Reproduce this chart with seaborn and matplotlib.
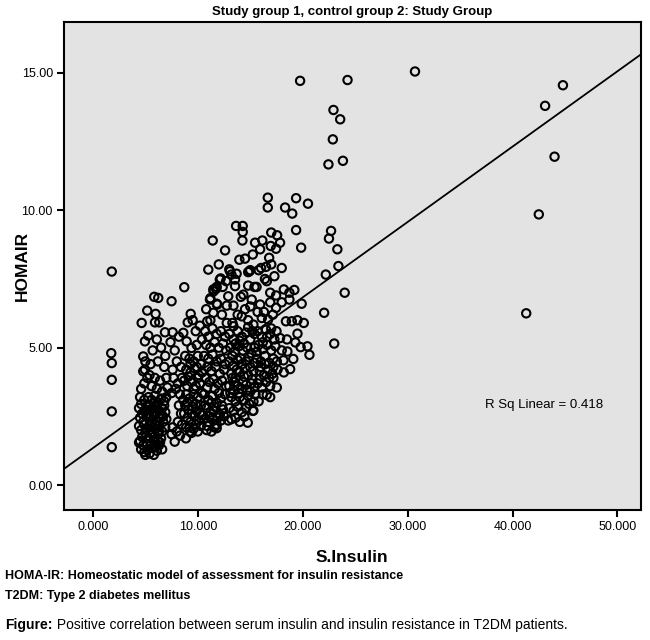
import matplotlib
matplotlib.use("Agg")
import matplotlib.pyplot as plt
import seaborn as sns
import pandas as pd

# S.Insulin values (grouped roughly by x band)
insulin = [
    1.8, 1.75, 1.8, 1.8, 1.8, 1.8,
    4.65, 4.96, 4.8, 4.96, 4.8, 5.18, 5.28, 4.5, 4.6, 4.4, 4.7, 4.5, 4.8, 4.4, 4.6, 4.9, 5.0, 5.1,
    4.9, 5.0, 4.7, 4.5, 4.8, 4.6, 4.9, 5.0, 5.1, 4.4, 5.2, 4.6, 4.9, 5.2, 5.0,
    5.85, 6.23, 5.98, 5.92, 6.33, 6.87, 6.1, 5.7, 6.5, 6.9, 5.5, 6.2, 6.8, 5.4, 5.9, 6.4, 7.0, 5.6,
    6.1, 6.6, 7.1, 5.3, 5.6, 5.9, 6.2, 6.5, 6.8, 7.0, 5.4, 5.7, 6.0, 6.3, 6.6, 6.9, 5.3, 5.5, 5.8,
    6.1, 6.4, 6.7, 7.0, 5.4, 5.7, 6.0, 6.3, 6.6, 6.9, 5.6, 6.2, 5.9, 6.5, 5.3, 5.5, 5.7, 5.9, 6.1,
    6.3, 6.5, 5.4, 5.8, 6.0, 6.6, 6.2, 7.8, 8.87, 9.25, 9.4,
    7.5, 7.6, 7.4, 7.8, 8.2, 8.0, 7.6, 8.4, 7.7, 8.1, 8.5, 7.9, 8.3, 7.5, 8.6, 8.2, 8.4, 8.1, 8.5,
    7.6, 8.0, 8.3, 7.5, 8.71,
    8.62, 8.94, 9.4, 9.32, 9.04, 9.51, 9.8, 10.2, 10.4, 9.9, 8.8, 9.2, 9.6, 10.0, 10.3, 8.9, 9.3,
    9.7, 10.1, 10.4, 8.7, 9.0, 9.4, 9.8, 10.2, 8.9, 9.2, 9.6, 10.0, 10.4, 8.8, 9.1, 9.5, 9.9, 10.3,
    9.0, 9.3, 9.7, 10.1, 10.4, 9.2, 9.6, 10.0, 10.3, 9.8, 9.5, 9.1,
    11.42, 11.0, 12.0, 12.6, 12.18, 11.48, 11.8, 11.16, 12.9, 11.86, 12.76, 11.48, 10.9, 12.76,
    12.1, 12.7, 11.5, 11.74, 12.37, 11.2, 11.8, 10.8, 12.3, 11.2,
    10.7, 11.0, 11.4, 11.8, 12.2, 12.6, 10.8, 11.2, 11.6, 12.0, 12.4, 12.7, 10.6, 11.0, 11.4, 11.8,
    12.2, 12.6, 10.9, 11.3, 11.7, 12.1, 12.5, 10.7, 11.1, 11.5, 11.9, 12.3, 12.7,
    10.6, 11.0, 11.4, 11.8, 12.2, 12.6, 10.8, 11.2, 11.6, 12.0, 12.4, 10.6, 11.0, 11.4, 11.8, 12.2,
    10.85, 11.8, 11.3, 12.9, 12.5, 11.6, 10.9,
    13.65, 14.28, 14.28, 14.25, 13.96, 14.5, 15.24, 13.07, 13.7, 14.92, 14.8, 15.0, 13.55, 14.8,
    15.4, 13.2, 13.0, 13.55, 14.34, 14.1, 15.14, 13.4, 14.19, 14.8, 15.3, 13.4, 14.5, 13.8, 15.0,
    13.0, 13.4, 13.8, 14.2, 14.6, 15.0, 15.4, 13.1, 13.5, 13.9, 14.3, 14.7, 15.1, 15.4, 13.0, 13.4,
    13.8, 14.2, 14.6, 15.0, 15.4, 13.2, 13.6, 14.0, 14.4, 14.8, 15.2,
    13.0, 13.4, 13.8, 14.2, 14.6, 15.0, 15.4, 13.2, 13.6, 14.0, 14.4, 14.8, 15.3, 13.0, 13.4, 13.8,
    14.2, 14.6, 15.24, 13.6, 14.0, 14.44, 14.76, 15.3, 13.2, 14.9, 13.3,
    16.67, 16.67, 17.0, 17.56, 17.84, 16.15, 15.46, 16.95, 17.46, 15.94, 16.8, 17.0, 16.5, 16.03,
    15.8, 16.4, 16.58, 15.6, 18.2, 16.9, 17.46, 18.0, 15.94, 16.9, 17.46, 16.1, 16.7, 17.15, 18.4,
    18.32, 18.0, 17.3, 15.7,
    15.7, 16.1, 16.5, 16.9, 17.3, 17.84, 15.8, 16.2, 16.6, 17.0, 17.4, 18.0, 15.6, 16.0, 16.4, 16.8,
    17.2, 17.53, 18.16, 18.54, 15.9, 16.3, 16.7, 17.1, 17.6, 18.2, 15.7, 16.1, 16.5, 16.9, 17.53,
    16.57, 16.9, 16.2, 15.8, 17.2, 18.5,
    19.37, 20.5, 19.0, 19.37, 19.85, 18.73, 18.73, 18.96, 19.9, 19.5, 20.45, 20.64, 19.8, 19.3,
    18.8, 19.1, 19.5, 20.1, 19.2,
    22.7, 22.5, 23.3, 23.4, 22.2, 24.0, 22.04, 23.0,
    19.75, 24.27, 22.93, 23.57, 22.87, 23.83, 22.45, 30.7,
    41.3, 42.5, 44.0, 43.1, 44.8,
]

# HOMA-IR values, same order as insulin
homa_ir = [
    7.77, 4.8, 4.44, 3.83, 2.68, 1.38,
    5.9, 5.23, 4.68, 4.2, 4.14, 6.35, 5.44, 3.2, 2.95, 2.8, 2.6, 2.45, 2.3, 2.15, 2.0, 3.1, 2.75, 2.5,
    2.2, 1.9, 1.75, 1.6, 1.45, 1.3, 1.2, 1.1, 1.5, 1.55, 1.3, 3.5, 3.7, 3.9, 4.5,
    6.85, 6.81, 6.23, 5.92, 5.92, 5.56, 5.3, 4.9, 5.0, 4.7, 4.4, 4.5, 4.3, 4.0, 3.9, 3.8, 3.9, 3.6,
    3.5, 3.4, 3.55, 3.2, 3.1, 3.25, 3.0, 3.15, 3.05, 3.2, 2.9, 2.8, 2.85, 2.7, 2.8, 2.65, 2.6, 2.45, 2.5,
    2.35, 2.45, 2.3, 2.4, 2.2, 2.1, 2.05, 2.15, 1.95, 2.1, 1.9, 1.85, 2.65, 2.55, 1.7, 1.5, 1.35, 1.6, 1.25,
    1.45, 1.7, 1.15, 1.1, 1.4, 1.3, 1.6, 1.58, 1.7, 1.95, 1.9,
    6.69, 5.56, 5.2, 4.9, 5.4, 4.5, 4.2, 4.3, 3.9, 3.7, 3.9, 3.5, 3.3, 3.35, 3.1, 2.9, 2.6, 2.3, 2.2,
    2.1, 1.95, 1.8, 1.85, 7.2,
    5.54, 5.23, 4.99, 6.23, 5.92, 6.0, 5.6, 5.8, 5.3, 5.1, 4.7, 4.6, 4.5, 4.7, 4.4, 4.2, 4.1,
    4.25, 4.0, 4.1, 3.8, 3.6, 3.75, 3.6, 3.7, 3.3, 3.15, 3.3, 3.2, 3.35, 2.9, 2.75, 2.85, 2.7, 2.9,
    2.45, 2.3, 2.5, 2.35, 2.55, 2.1, 2.05, 1.95, 2.15, 2.2, 3.05, 3.95,
    8.9, 7.84, 8.03, 8.54, 7.52, 7.12, 7.21, 6.75, 6.87, 6.57, 6.53, 6.27, 5.96, 5.9,
    7.48, 7.42, 7.05, 7.14, 7.21, 6.8, 6.6, 6.4, 6.2, 6.0,
    5.6, 5.4, 5.7, 5.5, 5.6, 5.4, 5.1, 5.0, 5.2, 5.0, 5.15, 4.9, 4.7, 4.6, 4.75, 4.5,
    4.6, 4.4, 4.3, 4.15, 4.3, 4.05, 4.2, 3.9, 3.75, 3.85, 3.7, 3.8, 3.6,
    3.3, 3.1, 3.25, 3.0, 3.15, 3.3, 2.8, 2.65, 2.85, 2.6, 2.75, 2.4, 2.3, 2.45, 2.2, 2.35,
    2.0, 2.07, 1.95, 2.35, 2.5, 3.5, 3.55,
    9.43, 9.43, 9.21, 8.9, 8.2, 8.24, 8.39, 7.78, 7.69, 7.78, 7.75, 7.82, 7.24, 7.26,
    7.21, 7.66, 7.85, 7.48, 6.93, 6.85, 6.75, 6.53, 6.14, 6.0, 5.84, 5.78, 6.4, 6.2, 6.5,
    5.5, 5.3, 5.6, 5.4, 5.55, 5.3, 5.5, 5.0, 4.85, 5.05, 4.9, 5.0, 4.8, 5.0, 4.5, 4.35,
    4.55, 4.4, 4.5, 4.3, 4.45, 4.05, 3.9, 4.1, 3.95, 4.0, 3.85,
    3.6, 3.45, 3.6, 3.5, 3.65, 3.4, 3.55, 3.2, 3.05, 3.2, 3.1, 3.25, 3.04, 2.8, 2.7, 2.85,
    2.65, 2.8, 2.7, 2.45, 2.3, 2.49, 2.27, 2.71, 2.4, 2.95, 3.9,
    10.46, 10.1, 9.19, 9.09, 8.82, 8.9, 8.82, 8.7, 8.6, 8.58, 8.27, 8.03, 7.94, 7.9,
    7.82, 7.5, 7.42, 7.21, 7.12, 7.0, 6.9, 6.65, 6.57, 6.65, 6.45, 6.08, 6.02, 6.2, 5.96,
    10.1, 7.9, 7.6, 6.3,
    5.6, 5.4, 5.65, 5.5, 5.3, 5.35, 5.1, 4.95, 5.1, 4.9, 5.05, 4.9, 4.6, 4.5, 4.7, 4.45,
    4.6, 4.5, 4.54, 4.86, 4.15, 4.0, 4.2, 4.05, 4.2, 4.1, 3.7, 3.55, 3.75, 3.6, 3.55,
    3.28, 3.2, 3.3, 3.05, 3.9, 5.3,
    10.44, 10.24, 9.88, 9.28, 8.64, 7.0, 6.75, 5.96, 6.6, 5.51, 5.05, 4.74, 5.02, 5.19,
    4.22, 4.59, 6.0, 5.9, 7.1,
    9.25, 8.97, 8.58, 7.97, 7.66, 7.0, 6.27, 5.15,
    14.71, 14.74, 13.65, 13.31, 12.58, 11.8, 11.67, 15.05,
    6.25, 9.85, 11.95, 13.8, 14.55,
]

# second pass over the densest blobs (points hidden under the first pass)
insulin_dense = [
    5.2, 5.5, 5.8, 6.1, 6.4, 6.7, 5.6, 6.0, 6.3, 5.5, 5.8, 6.4, 5.1, 6.8, 5.9,
    10.7, 11.1, 11.5, 11.9, 12.3, 10.9, 11.6, 12.1, 11.3, 12.0,
    13.1, 13.5, 13.9, 14.3, 14.7, 15.1, 15.5, 13.7, 14.1, 14.5, 14.9, 15.3, 13.3, 13.6, 14.0,
    14.4, 14.8, 15.2, 13.3, 15.6, 16.0, 16.4, 16.8, 17.2, 16.2, 16.6, 17.0, 16.3, 17.5, 15.9,
    9.0, 9.4, 9.8, 10.2, 9.6, 10.0, 9.3, 9.9, 8.7, 8.9,
]
homa_dense = [
    2.9, 2.75, 3.0, 2.9, 2.6, 2.5, 2.3, 2.2, 1.95, 1.9, 1.75, 1.55, 2.05, 2.9, 1.45,
    2.9, 2.5, 2.7, 2.45, 2.9, 2.15, 2.1, 2.55, 3.0, 3.35,
    3.35, 3.75, 3.35, 3.75, 3.45, 3.7, 3.3, 4.2, 4.6, 4.25, 4.65, 4.15, 4.7, 5.15, 5.25,
    5.15, 5.75, 5.6, 5.9, 4.85, 4.3, 4.4, 3.9, 4.3, 5.2, 5.4, 5.7, 6.3, 5.6, 3.85,
    3.0, 2.6, 2.95, 2.6, 3.5, 3.9, 4.4, 4.3, 2.6, 2.1,
]

title = "Study group 1, control group 2: Study Group"
r2_label = "R Sq Linear = 0.418"
notes = ["HOMA-IR: Homeostatic model of assessment for insulin resistance",
         "T2DM: Type 2 diabetes mellitus"]
fig_caption = ("Figure:", " Positive correlation between serum insulin and insulin resistance in T2DM patients.")
x_ticks = [0, 10, 20, 30, 40, 50]
y_ticks = [0, 5, 10, 15]

df = pd.DataFrame({'S.Insulin': insulin + insulin_dense, 'HOMAIR': homa_ir + homa_dense})

sns.set_style("white")
plt.rcParams['font.family'] = ['Liberation Sans', 'DejaVu Sans']
plt.rcParams.update({'text.color': 'black', 'axes.labelcolor': 'black',
                     'xtick.color': 'black', 'ytick.color': 'black'})

fig = plt.figure(figsize=(6.5, 6.4), dpi=100)
ax = fig.add_axes([0.0985, 0.203, 0.887, 0.763])
ax.set_facecolor('#e3e3e3')
ax.set_xlim(-2.75, 52.2)
ax.set_ylim(-0.91, 16.86)

sns.regplot(data=df, x='S.Insulin', y='HOMAIR', ax=ax, ci=None, truncate=False,
            scatter_kws=dict(s=36, facecolors='none', edgecolors='black', linewidths=1.5, alpha=1),
            line_kws=dict(color='black', linewidth=1.3))

ax.set_xticks(x_ticks)
ax.set_xticklabels([f'{v:.3f}' for v in x_ticks], fontsize=9)
ax.set_yticks(y_ticks)
ax.set_yticklabels([f'{v:.2f}' for v in y_ticks], fontsize=9)
ax.tick_params(axis='both', direction='out', length=5, width=1.5, color='black', pad=3,
               bottom=True, left=True, labelcolor='black')
for sp in ax.spines.values():
    sp.set_color('black')
    sp.set_linewidth(1.5)

ax.set_xlabel('S.Insulin', fontsize=12.5, fontweight='bold', color='black')
ax.xaxis.set_label_coords(0.5, -0.082)
ax.set_ylabel('HOMAIR', fontsize=12.5, fontweight='bold', color='black')
ax.yaxis.set_label_coords(-0.06, 0.5)
ax.set_title(title, fontsize=9.5, fontweight='bold', pad=5, color='black')
ax.text(37.4, 2.92, r2_label, fontsize=9.5, va='center', ha='left', color='black')

fig.text(0.008, 0.1, notes[0], fontsize=9, fontweight='bold', va='center')
fig.text(0.008, 0.069, notes[1], fontsize=9, fontweight='bold', va='center')
t = fig.text(0.008, 0.024, fig_caption[0], fontsize=10, fontweight='bold', va='center')
fig.canvas.draw()
bb = t.get_window_extent()
fig.text(bb.x1 / fig.bbox.width, 0.024, fig_caption[1], fontsize=10, va='center')

fig.savefig('out.png', dpi=100)
